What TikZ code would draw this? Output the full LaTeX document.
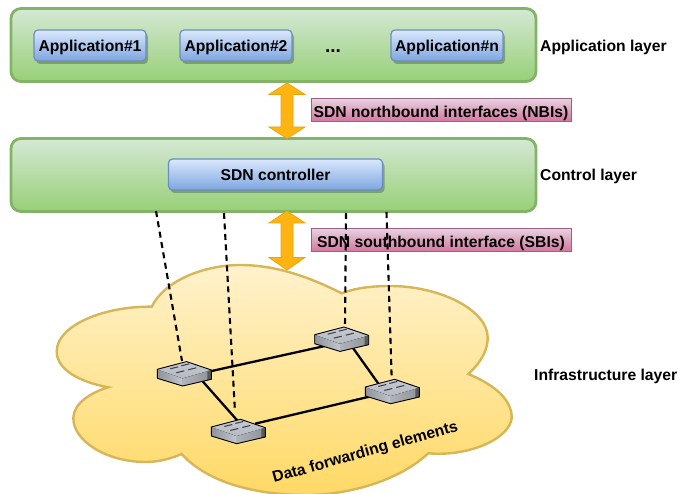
\documentclass[tikz,border=0pt]{standalone}
\usepackage{fontspec}
\setmainfont{Liberation Sans}
\usetikzlibrary{shadows}
\definecolor{gTop}{HTML}{D5E8D4}\definecolor{gBot}{HTML}{97D077}\definecolor{gLine}{HTML}{82B366}
\definecolor{bTop}{HTML}{DAE8FC}\definecolor{bBot}{HTML}{7EA6E0}\definecolor{bLine}{HTML}{6C8EBF}
\definecolor{pTop}{HTML}{E6D0DE}\definecolor{pBot}{HTML}{D5739D}\definecolor{pLine}{HTML}{996185}
\definecolor{yTop}{HTML}{FFF2CC}\definecolor{yBot}{HTML}{FFD966}\definecolor{yLine}{HTML}{D6B656}
\definecolor{oFill}{HTML}{FFB412}\definecolor{oLine}{HTML}{E8A50C}
\definecolor{swTopA}{HTML}{C6CAD2}\definecolor{swTopB}{HTML}{B4B9C2}
\definecolor{swLA}{HTML}{8E939B}\definecolor{swLB}{HTML}{C2C6CE}
\definecolor{swRA}{HTML}{B0B4BA}\definecolor{swRB}{HTML}{8F9398}
\tikzset{
  lbl/.style={font=\fontsize{15.7}{18}\selectfont\bfseries,inner sep=0pt,text height=11.5pt,text depth=.5pt},
  layerbox/.style={draw=gLine,line width=2.8pt,rounded corners=10pt,top color=gTop,bottom color=gBot,minimum width=525pt,minimum height=73pt,inner sep=0pt},
  appbox/.style={lbl,draw=bLine,line width=1.2pt,rounded corners=4pt,top color=bTop,bottom color=bBot,minimum height=31pt,text height=12.5pt,text depth=0pt,
     drop shadow={shadow xshift=2pt,shadow yshift=-3pt,fill=black,opacity=.25}},
  ifbox/.style={lbl,draw=pLine,line width=1pt,top color=pTop,bottom color=pBot,minimum width=260pt,minimum height=23pt,text height=13.5pt,text depth=0pt},
  blockarrow/.style={draw=oLine,fill=oFill,line width=.8pt,line join=miter},
  ctrl/.style={black,line width=2.1pt,dash pattern=on 6pt off 4.5pt},
  wire/.style={black,line width=2.3pt,shorten >=-3pt,shorten <=-3pt},
  switchpic/.pic={
    \fill[left color=swLA,right color=swLB] (-27,-4) -- (-27,5) -- (-1.7,12.7) -- (-1.7,5) -- cycle;
    \fill[left color=swRA,right color=swRB] (-1.7,5) -- (-1.7,12.7) -- (27,6) -- (27,-3.3) -- cycle;
    \fill[top color=swTopA,bottom color=swTopB] (-27,-4) -- (2.3,-11.7) -- (27,-3.3) -- (-1.7,5) -- cycle;
    \fill[black!65] (23,-2.2) -- (27,-3.3) -- (27,6) -- (23,6.9) -- cycle;
    \draw[black,line width=.9pt,line join=round] (-27,-4) -- (2.3,-11.7) -- (27,-3.3) -- (27,6) -- (-1.7,12.7) -- (-27,5) -- cycle;
    \draw[black!75,line width=1pt] (-14,-4.5)--(-6,-6.5) (-3,-7.5)--(5,-9.5) (-8,-.5)--(0,-2.5) (4,-3.5)--(12,-5.5);
  }
}
\begin{document}
\begin{tikzpicture}[x=1pt,y=-1pt]
\useasboundingbox (0,0) rectangle (678,494);
% cloud
\draw[draw=yLine,line width=2.4pt,top color=yTop,bottom color=yBot,line join=miter]
 (151.7,306.7) .. controls (165,280) and (205,265) .. (240,265)
 .. controls (280,265) and (315,280) .. (341.7,293.3)
 .. controls (355,288) and (372,286) .. (390,286)
 .. controls (440,286) and (488,310) .. (487.7,338)
 .. controls (487.5,355) and (475,368) .. (468.3,374)
 .. controls (495,385) and (512,400) .. (511.7,418)
 .. controls (510,438) and (470,457) .. (428.3,453.3)
 .. controls (400,480) and (350,495) .. (306,495)
 .. controls (250,495) and (205,480) .. (181.7,454)
 .. controls (170,459) and (158,462) .. (146,462)
 .. controls (105,462) and (73,440) .. (73.3,418)
 .. controls (73.5,403) and (92,392) .. (108.3,387.3)
 .. controls (80,382) and (57,370) .. (56.7,351.7)
 .. controls (56.5,325) and (105,306) .. cycle;
% layers
\node[layerbox] (applayer) at (273.5,45) {};
\node[layerbox] (ctrllayer) at (273.5,175) {};
\node[appbox,minimum width=112pt] (app1) at (90,45.5) {Application\#1};
\node[appbox,minimum width=112pt] (app2) at (236,45.5) {Application\#2};
\node[appbox,minimum width=112pt] (appn) at (447,45.5) {Application\#n};
\node[lbl,font=\fontsize{19}{20}\selectfont\bfseries] (dots) at (333,47) {...};
\node[appbox,minimum width=214pt] (ctrl) at (275.5,174.5) {SDN controller};
\node[lbl,anchor=west] (lapp) at (540,46) {Application layer};
\node[lbl,anchor=west] (lctl) at (540,175) {Control layer};
\node[lbl,anchor=west] (linf) at (534,375) {Infrastructure layer};
% interface labels
\node[ifbox] (nbi) at (441,110.5) {SDN northbound interfaces (NBIs)};
\node[ifbox] (sbi) at (441,240.5) {SDN southbound interface (SBIs)};
% block arrows
\draw[blockarrow] (287,83) -- (305,94.5) -- (293,94.5) -- (293,127) -- (305,127) -- (287,138.5) -- (269,127) -- (281,127) -- (281,94.5) -- (269,94.5) -- cycle;
\draw[blockarrow] (287,211) -- (305,223) -- (293,223) -- (293,257.5) -- (305,257.5) -- (287,270) -- (269,257.5) -- (281,257.5) -- (281,223) -- (269,223) -- cycle;
% switches
\coordinate (s1) at (184.3,373.3);
\coordinate (s2) at (238.3,431);
\coordinate (s3) at (341.7,338.7);
\coordinate (s4) at (392.3,391);
\coordinate (c1) at (156,211);
\coordinate (c2) at (224,213);
\coordinate (c3) at (346,213);
\coordinate (c4) at (386.5,212);
\coordinate (t1) at (182,361);
\coordinate (t2) at (235,412);
\coordinate (t3) at (345,327);
\coordinate (t4) at (391.7,379);
\coordinate (s1e) at (211.7,371);
\coordinate (s3w) at (321.7,346.7);
\coordinate (s1s) at (203,381.7);
\coordinate (s2n) at (236,419);
\coordinate (s2e) at (258,423);
\coordinate (s4w) at (368,397);
\coordinate (s3s) at (353,348);
\coordinate (s4n) at (377,381.7);
\draw[ctrl] (c1) -- (t1);
\draw[ctrl] (c2) -- (t2);
\draw[ctrl] (c3) -- (t3);
\draw[ctrl] (c4) -- (t4);
\draw[wire] (s1e) -- (s3w);
\draw[wire] (s1s) -- (s2n);
\draw[wire] (s2e) -- (s4w);
\draw[wire] (s3s) -- (s4n);
\pic at (s1) {switchpic};
\pic at (s2) {switchpic};
\pic at (s3) {switchpic};
\pic at (s4) {switchpic};
\node[lbl,rotate=15.8] (dfe) at (365,451.5) {Data forwarding elements};
\end{tikzpicture}
\end{document}
